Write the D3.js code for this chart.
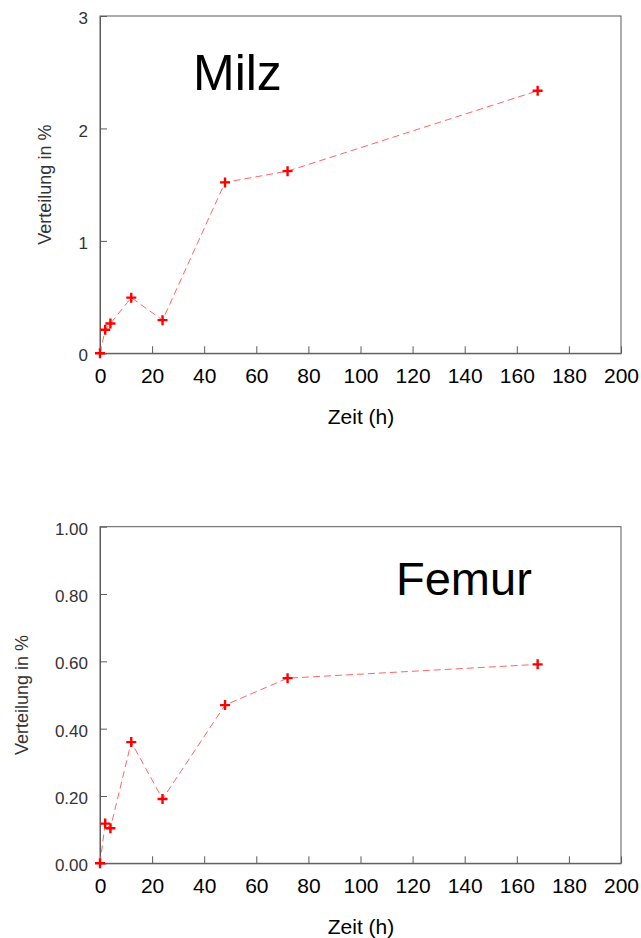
<!DOCTYPE html>
<html>
<head>
<meta charset="utf-8">
<script src="https://cdn.jsdelivr.net/npm/d3@7"></script>
<style>
  html, body { margin: 0; padding: 0; background: #ffffff; }
  svg { display: block; font-family: Arial, "Liberation Sans", sans-serif; }
</style>
</head>
<body>
<svg id="chart" width="641" height="938"></svg>
<script>
// Sampling times (hours)
const hours = [0, 2, 4, 12, 24, 48, 72, 168];
// Distribution (%) per organ
const milzValues = [0, 0.21, 0.265, 0.495, 0.295, 1.52, 1.62, 2.335];
const femurValues = [0, 0.118, 0.104, 0.36, 0.191, 0.47, 0.55, 0.591];
// Axis ticks
const xTicks = [0, 20, 40, 60, 80, 100, 120, 140, 160, 180, 200];
const milzTicks = [0, 1, 2, 3];
const femurTicks = [0, 0.2, 0.4, 0.6, 0.8, 1.0];

const xLabel = "Zeit (h)";
const yLabel = "Verteilung in %";

const svg = d3.select("#chart");

function panel(cfg) {
  const g = svg.append("g");
  const x = d3.scaleLinear().domain([0, 200]).range([100, 621]);
  const y = d3.scaleLinear().domain(cfg.yDomain).range([cfg.bottom, cfg.top]);

  // frame
  g.append("rect")
    .attr("x", x(0)).attr("y", y(cfg.yDomain[1]))
    .attr("width", x(200) - x(0)).attr("height", y(cfg.yDomain[0]) - y(cfg.yDomain[1]))
    .attr("fill", "none").attr("stroke", "#5a5a5a").attr("stroke-width", 1);

  // x axis (inward ticks)
  const xAxis = g.append("g")
    .attr("transform", `translate(0,${cfg.bottom})`)
    .call(d3.axisBottom(x).tickValues(xTicks).tickSizeInner(-7).tickSizeOuter(0).tickPadding(16));
  xAxis.select(".domain").attr("stroke", "#5a5a5a");
  xAxis.selectAll(".tick line").attr("stroke", "#5a5a5a");
  xAxis.selectAll(".tick text")
    .attr("font-size", 21).attr("fill", "#000").attr("dy", "0.71em")
    .attr("y", 15);

  // y axis (inward ticks)
  const yAxis = g.append("g")
    .attr("transform", `translate(${x(0)},0)`)
    .call(d3.axisLeft(y).tickValues(cfg.yTicks).tickFormat(cfg.fmt).tickSizeInner(-7).tickSizeOuter(0).tickPadding(12));
  yAxis.select(".domain").attr("stroke", "#5a5a5a");
  yAxis.selectAll(".tick line").attr("stroke", "#5a5a5a");
  yAxis.selectAll(".tick text")
    .attr("font-size", 17).attr("fill", "#333").attr("dy", "0.45em");

  // axis titles
  g.append("text")
    .attr("x", 361).attr("y", cfg.bottom + 71)
    .attr("text-anchor", "middle").attr("font-size", 21).attr("fill", "#000")
    .text(xLabel);
  g.append("text")
    .attr("transform", `translate(${cfg.yLabelX},${(cfg.top + cfg.bottom) / 2}) rotate(-90)`)
    .attr("text-anchor", "middle").attr("font-size", 18).attr("fill", "#333")
    .text(yLabel);

  // organ name
  g.append("text")
    .attr("x", cfg.nameX).attr("y", cfg.nameY)
    .attr("font-size", cfg.nameSize).attr("fill", "#000")
    .text(cfg.name);

  const pts = hours.map((h, i) => [h, cfg.values[i]]);

  // dashed connecting line
  g.append("path")
    .datum(pts)
    .attr("fill", "none")
    .attr("stroke", "#ff6666").attr("stroke-width", 1)
    .attr("stroke-dasharray", "7,4")
    .attr("d", d3.line().x(d => x(d[0])).y(d => y(d[1])));

  // plus markers
  g.selectAll(".pt").data(pts).enter().append("path")
    .attr("class", "pt")
    .attr("transform", d => `translate(${x(d[0])},${y(d[1])})`)
    .attr("d", "M-5,0H5M0,-5V5")
    .attr("stroke", "#ff0000").attr("stroke-width", 2.4).attr("fill", "none");
}

panel({
  top: 16, bottom: 353.3, yDomain: [0, 3], yTicks: milzTicks, fmt: d3.format("d"),
  values: milzValues, name: "Milz", nameX: 193, nameY: 90, nameSize: 50, yLabelX: 51
});

panel({
  top: 526.7, bottom: 863.3, yDomain: [0, 1], yTicks: femurTicks, fmt: d3.format(".2f"),
  values: femurValues, name: "Femur", nameX: 396, nameY: 595, nameSize: 47, yLabelX: 28
});
</script>
</body>
</html>
